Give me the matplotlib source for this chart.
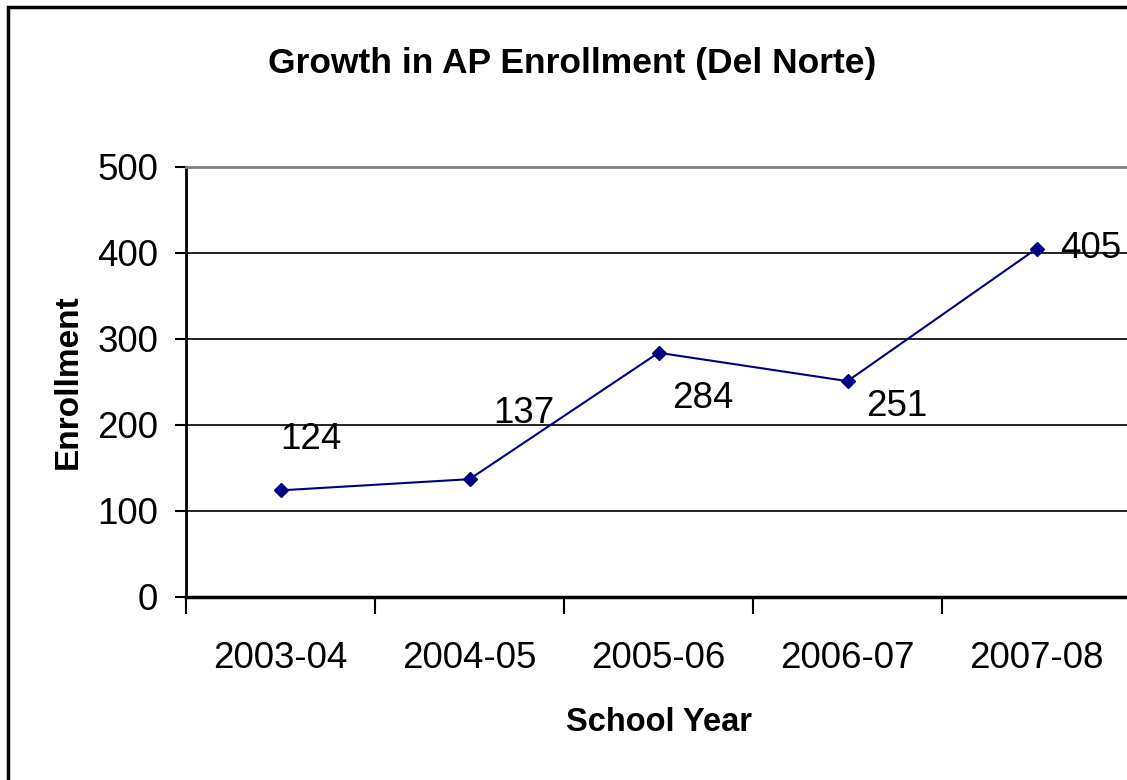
import matplotlib
matplotlib.use('Agg')
import matplotlib.pyplot as plt
from matplotlib.patches import Rectangle

plt.rcParams['font.family'] = ['Liberation Sans', 'DejaVu Sans']

# data
years = ['2003-04', '2004-05', '2005-06', '2006-07', '2007-08']
enrollment = [124, 137, 284, 251, 405]
yticks = [0, 100, 200, 300, 400, 500]

# label offsets in pixels (left edge, vertical centre) relative to each point
label_offsets = [(0, 51), (24, 66), (14, -46), (19, -25), (24, 0)]

fig = plt.figure(figsize=(11.27, 7.80), dpi=100)
W, H = 1127.0, 780.0

# outer chart border (only left/top visible in the crop)
fig.patches.append(Rectangle((8 / W, -0.1), 1.2, 1 - 7 / H + 0.1,
                             transform=fig.transFigure, fill=False,
                             edgecolor='black', linewidth=2.5, zorder=0))

ax = fig.add_axes([186 / W, 1 - 597 / H, (1131 - 186) / W, (597 - 167) / H])

x = list(range(len(years)))
ax.plot(x, enrollment, color='#000080', linewidth=1.5, marker='D',
        markersize=7.5, zorder=3, clip_on=False)

for xi, v, (dx, dy) in zip(x, enrollment, label_offsets):
    ax.annotate(str(v), (xi, v), xytext=(dx, dy), textcoords='offset pixels',
                ha='left', va='center', fontsize=26.5, zorder=4)

ax.set_xlim(-0.5, len(years) - 0.5)
ax.set_ylim(yticks[0], yticks[-1])

# gridlines
for yv in yticks[1:-1]:
    ax.axhline(yv, color='black', linewidth=1.2, zorder=1)

ax.set_yticks(yticks)
ax.set_yticklabels([str(t) for t in yticks], fontsize=26.5)
ax.tick_params(axis='y', direction='out', length=8, width=1.5, pad=12)

# category boundaries as major ticks, labels at centres
ax.set_xticks([i - 0.5 for i in range(len(years) + 1)])
ax.set_xticklabels([])
ax.set_xticks(x, minor=True)
ax.set_xticklabels(years, minor=True, fontsize=26.5)
ax.tick_params(axis='x', which='major', direction='out', length=12, width=1.5)
ax.tick_params(axis='x', which='minor', length=0, pad=32)

ax.spines['left'].set_linewidth(2)
ax.spines['bottom'].set_linewidth(2.5)
ax.spines['top'].set_color('#808080')
ax.spines['top'].set_linewidth(2)
ax.spines['right'].set_visible(False)

ax.set_xlabel('School Year', fontsize=23.5, fontweight='bold', labelpad=22)
ax.set_ylabel('Enrollment', fontsize=24, fontweight='bold', labelpad=10)

fig.text(572 / W, 1 - 64 / H, 'Growth in AP Enrollment (Del Norte)',
         ha='center', va='center', fontsize=25.5, fontweight='bold')

fig.savefig('out.png', dpi=100)
